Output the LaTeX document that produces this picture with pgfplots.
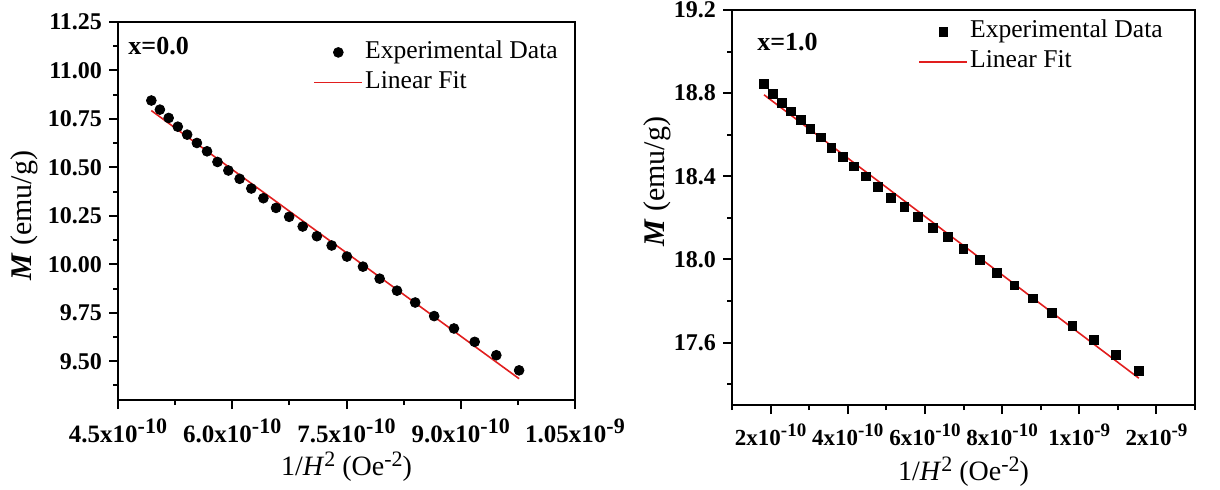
\documentclass[border=0pt]{standalone}
\usepackage{fontspec}
\setmainfont{Liberation Serif}
\usepackage{pgfplots}
\usepackage{pgfplotstable}
\pgfplotsset{compat=1.18}
\definecolor{fitred}{RGB}{225,30,30}
\newcommand{\sps}[1]{\raisebox{4.5pt}{\fontsize{11}{11}\selectfont #1}}
\newcommand{\spsb}[1]{\raisebox{4.5pt}{\fontsize{9.5}{10}\selectfont #1}}

\pgfplotstableread{
x y
4.938e-10 10.845
5.050e-10 10.798
5.165e-10 10.755
5.285e-10 10.710
5.408e-10 10.669
5.536e-10 10.626
5.669e-10 10.583
5.806e-10 10.528
5.949e-10 10.484
6.097e-10 10.441
6.250e-10 10.391
6.409e-10 10.341
6.575e-10 10.291
6.747e-10 10.245
6.925e-10 10.195
7.111e-10 10.145
7.305e-10 10.097
7.506e-10 10.040
7.716e-10 9.988
7.935e-10 9.926
8.163e-10 9.864
8.402e-10 9.803
8.651e-10 9.733
8.911e-10 9.669
9.183e-10 9.600
9.467e-10 9.531
9.766e-10 9.453
}\dataA

\pgfplotstableread{
x y
1.830e-10 18.845
2.055e-10 18.797
2.287e-10 18.752
2.528e-10 18.712
2.776e-10 18.672
3.033e-10 18.629
3.301e-10 18.587
3.576e-10 18.536
3.864e-10 18.493
4.162e-10 18.448
4.470e-10 18.400
4.790e-10 18.349
5.124e-10 18.298
5.470e-10 18.253
5.828e-10 18.205
6.202e-10 18.152
6.592e-10 18.107
6.997e-10 18.051
7.419e-10 17.997
7.860e-10 17.936
8.319e-10 17.875
8.800e-10 17.813
9.301e-10 17.744
9.824e-10 17.680
10.371e-10 17.613
10.943e-10 17.541
11.544e-10 17.464
}\dataB

\pgfplotsset{panel/.style={
  scale only axis, anchor=south west,
  axis line style={line width=1.2pt},
  tick align=outside, xtick pos=left, ytick pos=left,
  major tick length=4.5pt, minor tick length=2.5pt,
  tick style={line width=1pt, black},
  xticklabel style={font=\bfseries\fontsize{12.5}{14}\selectfont, yshift=-1.5pt},
  yticklabel style={font=\bfseries\fontsize{12}{14}\selectfont},
  xlabel style={font=\fontsize{14}{16}\selectfont, anchor=center},
  ylabel style={font=\fontsize{15}{17}\selectfont, anchor=center},
  legend style={draw=none, fill=none, inner sep=0pt, font=\fontsize{12.8}{14}\selectfont,
    row sep=2pt, nodes={inner sep=1pt, text height=8.5pt, text depth=2.5pt},
    cells={anchor=west}},
  legend image code/.code={\draw[mark repeat=2,mark phase=2,##1] plot coordinates {(0pt,0pt) (12pt,0pt) (24pt,0pt)};},
  scaled x ticks=false, scaled y ticks=false,
}}

\begin{document}
\begin{tikzpicture}
\path[use as bounding box] (0pt,0pt) rectangle (610pt,244.5pt);

\begin{axis}[panel, at={(59pt,44.5pt)}, width=228.5pt, height=189pt,
  xmin=4.5e-10, xmax=10.5e-10, ymin=9.30, ymax=11.25,
  xtick={4.5e-10,6.0e-10,7.5e-10,9.0e-10,10.5e-10},
  xticklabels={4.5x10\sps{-10}, 6.0x10\sps{-10}, 7.5x10\sps{-10}, 9.0x10\sps{-10}, 1.05x10\sps{-9}},
  minor xtick={5.25e-10,6.75e-10,8.25e-10,9.75e-10},
  ytick={9.5,9.75,10,10.25,10.5,10.75,11,11.25},
  yticklabels={9.50,9.75,10.00,10.25,10.50,10.75,11.00,11.25},
  minor ytick={9.375,9.625,9.875,10.125,10.375,10.625,10.875,11.125},
  xlabel={1/\textit{H}\sps{2} (Oe\sps{-2})},
  ylabel={\textbf{\textit{M}} (emu/g)},
  xlabel style={at={(axis description cs:0.5,-0.177)}},
  ylabel style={at={(axis description cs:-0.206,0.487)}},
  legend style={at={(axis description cs:0.427,0.955)}, anchor=north west},
]
\addplot[only marks, mark=*, mark size=2.45pt, black] table {\dataA};
\addlegendentry{Experimental Data}
\addplot[fitred, line width=0.8pt, mark=none] coordinates {(4.938e-10,10.793) (9.766e-10,9.410)};
\addlegendentry{Linear Fit}
\node[anchor=north west, inner sep=0pt, font=\bfseries\fontsize{13}{15}\selectfont] at (rel axis cs:0.022,0.962) {x=0.0};
\end{axis}

\begin{axis}[panel, at={(366pt,42pt)}, width=231.5pt, height=197.5pt,
  xmin=1e-10, xmax=13e-10, ymin=17.30, ymax=19.2,
  xtick={2e-10,4e-10,6e-10,8e-10,10e-10,12e-10},
  xticklabels={2x10\spsb{-10}, 4x10\spsb{-10}, 6x10\spsb{-10}, 8x10\spsb{-10}, 1x10\spsb{-9}, 2x10\spsb{-9}},
  xticklabel style={font=\bfseries\fontsize{11.5}{14}\selectfont},
  minor xtick={1e-10,3e-10,5e-10,7e-10,9e-10,11e-10,13e-10},
  ytick={17.6,18.0,18.4,18.8,19.2},
  yticklabels={17.6,18.0,18.4,18.8,19.2},
  minor ytick={17.4,17.8,18.2,18.6,19.0},
  xlabel={1/\textit{H}\sps{2} (Oe\sps{-2})},
  ylabel={\textbf{\textit{M}} (emu/g)},
  xlabel style={at={(axis description cs:0.5,-0.170)}},
  ylabel style={at={(axis description cs:-0.162,0.565)}},
  legend style={at={(axis description cs:0.402,0.979)}, anchor=north west},
]
\addplot[only marks, mark=square*, mark size=2.2pt, black] table {\dataB};
\addlegendentry{Experimental Data}
\addplot[fitred, line width=0.8pt, mark=none] coordinates {(1.83e-10,18.792) (11.544e-10,17.429)};
\addlegendentry{Linear Fit}
\node[anchor=north west, inner sep=0pt, font=\bfseries\fontsize{13}{15}\selectfont] at (rel axis cs:0.054,0.942) {x=1.0};
\end{axis}
\end{tikzpicture}
\end{document}
